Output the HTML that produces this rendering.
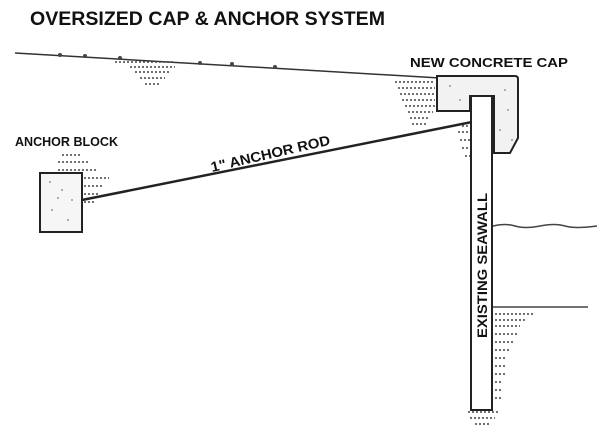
<!DOCTYPE html>
<html><head><style>
body{margin:0;background:#fff;width:600px;height:436px;overflow:hidden}
svg text{font-family:"Liberation Sans",sans-serif;font-weight:bold;fill:#111}
</style></head><body>
<svg width="600" height="436" viewBox="0 0 600 436">
<text x="30" y="25" font-size="19" textLength="355" lengthAdjust="spacingAndGlyphs">OVERSIZED CAP &amp; ANCHOR SYSTEM</text>
<text x="410" y="67" font-size="13" textLength="158" lengthAdjust="spacingAndGlyphs">NEW CONCRETE CAP</text>
<text x="15" y="146" font-size="13" textLength="103" lengthAdjust="spacingAndGlyphs">ANCHOR BLOCK</text>
<text x="0" y="0" font-size="14" textLength="122" lengthAdjust="spacingAndGlyphs" transform="translate(212,172) rotate(-13)">1" ANCHOR ROD</text>
<path d="M15,53 L440,78" stroke="#333" stroke-width="1.5" fill="none"/>
<g fill="#444">
<circle cx="60" cy="55" r="2"/><circle cx="85" cy="56" r="2"/><circle cx="120" cy="58" r="2"/><circle cx="200" cy="63" r="2"/><circle cx="232" cy="64" r="2"/><circle cx="275" cy="67" r="2"/>
</g>
<g stroke="#444" stroke-width="1.6" stroke-dasharray="2 2" fill="none">
<path d="M115,62h60M130,67h45M135,72h35M140,78h25M145,84h15"/>
<path d="M395,82h40M398,88h37M400,94h35M402,100h33M405,106h30M408,112h25M410,118h20M412,124h15"/>
<path d="M62,155h20M58,162h30M58,170h38M84,178h25M84,186h20M84,194h15M84,202h12"/>
<path d="M462,126h8M458,132h12M460,140h10M462,148h8M465,156h5"/>
<path d="M495,314h40M495,320h30M495,326h25M495,334h22M495,342h18M495,350h14M495,358h12M495,366h12M495,374h10M495,382h8M495,390h8M495,398h6"/>
<path d="M468,412h30M470,418h25M475,424h15"/>
</g>
<rect x="40" y="173" width="42" height="59" fill="#f6f6f6" stroke="#222" stroke-width="2"/>
<g fill="#999"><circle cx="50" cy="182" r="1"/><circle cx="62" cy="190" r="1"/><circle cx="72" cy="200" r="1"/><circle cx="52" cy="210" r="1"/><circle cx="68" cy="220" r="1"/><circle cx="58" cy="198" r="1"/></g>
<line x1="82" y1="200" x2="492" y2="118" stroke="#222" stroke-width="2.5"/>
<path d="M437,76 L515,76 Q518,76 518,79 L518,138 L510,153 L494,153 L494,96 L470,96 L470,111 L437,111 Z" fill="#f2f2f2" stroke="#222" stroke-width="2"/>
<g fill="#999"><circle cx="450" cy="86" r="1"/><circle cx="505" cy="90" r="1"/><circle cx="508" cy="110" r="1"/><circle cx="500" cy="130" r="1"/><circle cx="460" cy="100" r="1"/><circle cx="512" cy="140" r="1"/></g>
<rect x="471" y="96" width="21" height="314" fill="#fff" stroke="#222" stroke-width="2"/>
<text x="0" y="0" font-size="13.5" textLength="145" lengthAdjust="spacingAndGlyphs" transform="translate(487,338) rotate(-90)">EXISTING SEAWALL</text>
<path d="M493,226 Q505,223 515,226 T540,226 T565,226 T597,226" stroke="#444" stroke-width="1.5" fill="none"/>
<path d="M493,307 L588,307" stroke="#444" stroke-width="1.5"/>
</svg>
</body></html>
